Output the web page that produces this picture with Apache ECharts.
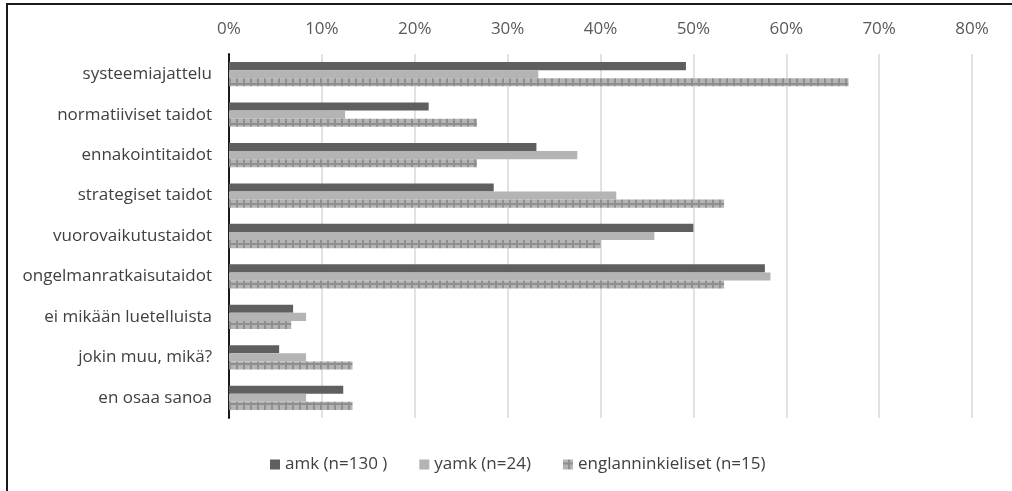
<!DOCTYPE html>
<html>
<head>
<meta charset="utf-8">
<script src="https://cdn.jsdelivr.net/npm/echarts@6/dist/echarts.min.js"></script>
<style>
html,body{margin:0;padding:0;background:#fff;}
#frame{position:absolute;left:6px;top:3px;width:1012px;height:500px;border-left:2px solid #1a1a1a;border-top:2px solid #1a1a1a;box-sizing:border-box;}
#chart{position:absolute;left:0;top:0;width:1012px;height:491px;}
</style>
</head>
<body>
<div id="frame"></div>
<div id="chart"></div>
<script>
const categories = ['systeemiajattelu','normatiiviset taidot','ennakointitaidot','strategiset taidot','vuorovaikutustaidot','ongelmanratkaisutaidot','ei mikään luetelluista','jokin muu, mikä?','en osaa sanoa'];
const seriesNames = ['amk (n=130 )','yamk (n=24)','englanninkieliset (n=15)'];
const amk = [49.2, 21.5, 33.1, 28.5, 50.0, 57.7, 6.9, 5.4, 12.3];
const yamk = [33.3, 12.5, 37.5, 41.7, 45.8, 58.3, 8.3, 8.3, 8.3];
const eng = [66.7, 26.7, 26.7, 53.3, 40.0, 53.3, 6.7, 13.3, 13.3];
const xTicks = [0, 10, 20, 30, 40, 50, 60, 70, 80];

function makePattern(){
  const c = document.createElement('canvas');
  c.width = 7; c.height = 8;
  const g = c.getContext('2d');
  g.fillStyle = '#b4b4b4'; g.fillRect(0,0,7,8);
  g.fillStyle = '#8f8f8f';
  g.fillRect(5,0,2,8);
  g.fillRect(0,3,7,2);
  return c;
}
const pat = makePattern();

const chart = echarts.init(document.getElementById('chart'), null, {renderer:'canvas'});
const font = '"Open Sans", sans-serif';
chart.setOption({
  animation:false,
  textStyle:{fontFamily:font},
  grid:{left:229, right:40, top:54, bottom:73, containLabel:false},
  legend:{
    top:451, left:265, itemWidth:10, itemHeight:10, itemGap:32,
    icon:'rect',
    textStyle:{fontSize:17, color:'#404040', fontFamily:font},
    data:seriesNames
  },
  xAxis:{
    type:'value', position:'top', min:xTicks[0], max:xTicks[xTicks.length-1], interval:10,
    axisLine:{show:false}, axisTick:{show:false},
    axisLabel:{formatter:v=>v+'%', fontSize:17, color:'#595959', margin:16, fontFamily:font},
    splitLine:{lineStyle:{color:'#d9d9d9', width:1.5}}
  },
  yAxis:{
    type:'category', data:categories, inverse:true,
    axisLine:{show:true, lineStyle:{color:'#1a1a1a', width:2}},
    axisTick:{show:false},
    axisLabel:{fontSize:17, color:'#404040', margin:17, fontFamily:font}
  },
  series:[
    {name:seriesNames[0], type:'bar', data:amk, barGap:'0%', barCategoryGap:'40%', itemStyle:{color:'#5f5f5f'}},
    {name:seriesNames[1], type:'bar', data:yamk, barGap:'0%', barCategoryGap:'40%', itemStyle:{color:'#b4b4b4'}},
    {name:seriesNames[2], type:'bar', data:eng, barGap:'0%', barCategoryGap:'40%', itemStyle:{color:{image:pat, repeat:'repeat'}}}
  ]
});
</script>
</body>
</html>
